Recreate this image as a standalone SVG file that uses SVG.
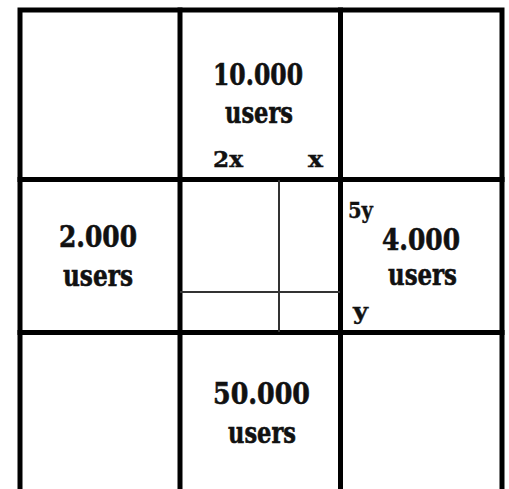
<svg xmlns="http://www.w3.org/2000/svg" width="509" height="489" viewBox="0 0 509 489">
<style>
.thick{stroke:#000;stroke-width:5;fill:none;stroke-linecap:square}
.thin{stroke:#333;stroke-width:2;fill:none}
.big{font-family:"DejaVu Serif","Liberation Serif",serif;font-weight:bold;font-size:29px;fill:#111;stroke:#111;stroke-width:0.6;text-anchor:middle}
.small{font-family:"DejaVu Serif","Liberation Serif",serif;font-weight:bold;font-size:23px;fill:#111;stroke:#111;stroke-width:0.4}
</style>
<rect width="509" height="489" fill="#fff"/>
<g id="grid">
<path class="thick" d="M20,492 V10 H502 V492"/>
<path class="thick" d="M180,10 V492 M340.5,10 V492 M20,179.5 H502 M20,332.5 H502"/>
<path class="thin" d="M279,180 V332 M180,292 H340"/>
</g>
<g id="top">
<text class="big" x="258" y="85" textLength="90" lengthAdjust="spacingAndGlyphs">10.000</text>
<text class="big" x="259" y="123" textLength="68" lengthAdjust="spacingAndGlyphs">users</text>
<text class="small" x="213" y="167" textLength="30" lengthAdjust="spacingAndGlyphs">2x</text>
<text class="small" x="308" y="167" textLength="15" lengthAdjust="spacingAndGlyphs">x</text>
</g>
<g id="left">
<text class="big" x="98" y="247" textLength="78" lengthAdjust="spacingAndGlyphs">2.000</text>
<text class="big" x="98" y="286" textLength="70" lengthAdjust="spacingAndGlyphs">users</text>
</g>
<g id="right">
<text class="big" x="421" y="250" textLength="78" lengthAdjust="spacingAndGlyphs">4.000</text>
<text class="big" x="422.5" y="285" textLength="69" lengthAdjust="spacingAndGlyphs">users</text>
<text class="small" x="348" y="218" textLength="25" lengthAdjust="spacingAndGlyphs">5y</text>
<text class="small" x="353" y="319" textLength="15" lengthAdjust="spacingAndGlyphs">y</text>
</g>
<g id="bottom">
<text class="big" x="261.5" y="404" textLength="97" lengthAdjust="spacingAndGlyphs">50.000</text>
<text class="big" x="262" y="443" textLength="68" lengthAdjust="spacingAndGlyphs">users</text>
</g>
</svg>
